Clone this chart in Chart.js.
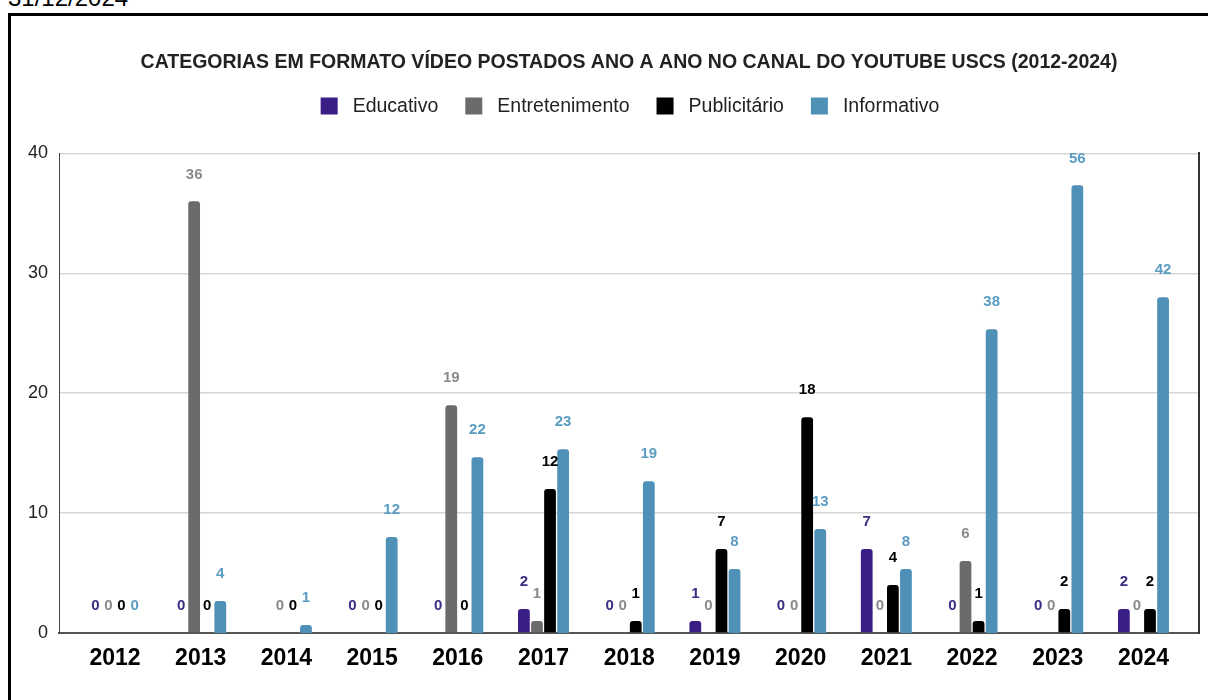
<!DOCTYPE html>
<html>
<head>
<meta charset="utf-8">
<script src="https://cdn.jsdelivr.net/npm/chart.js@4.4.1/dist/chart.umd.min.js"></script>
<style>
  html, body { margin: 0; padding: 0; background: #fff; overflow: hidden; }
  #stamp { position: absolute; left: 8px; top: -14px; font: 24px/1 'Liberation Sans', Arial, sans-serif; color: #000; }
  #frame { position: absolute; left: 8px; top: 13px; width: 1230px; height: 740px; border: 3px solid #000; box-sizing: border-box; }
  #wrap { position: absolute; left: 0; top: 0; width: 1208px; height: 700px; }
</style>
</head>
<body>
<div id="stamp">31/12/2024</div>
<div id="frame"></div>
<div id="wrap"><canvas id="chart"></canvas></div>
<script>
const FONT = "'Liberation Sans', Arial, sans-serif";
Chart.defaults.font.family = FONT;
Chart.defaults.color = "#222";

const TITLE = "CATEGORIAS EM FORMATO VÍDEO POSTADOS ANO A ANO NO CANAL DO YOUTUBE USCS (2012-2024)";
const YEARS = [2012, 2013, 2014, 2015, 2016, 2017, 2018, 2019, 2020, 2021, 2022, 2023, 2024];
const Y_TICKS = [0, 10, 20, 30, 40];

const SERIES = ["Educativo", "Entretenimento", "Publicitário", "Informativo"];
const EDUCATIVO = [0, 0, null, 0, 0, 2, 0, 1, 0, 7, 0, 0, 2];
const ENTRETENIMENTO = [0, 36, 0, 0, 19, 1, 0, 0, 0, 0, 6, 0, 0];
const PUBLICITARIO = [0, 0, 0, 0, 0, 12, 1, 7, 18, 4, 1, 2, 2];
const INFORMATIVO = [0, 4, 1, 12, 22, 23, 19, 8, 13, 8, 38, 56, 42];

const BAR_COLORS = ["#3a1e86", "#6b6b6b", "#000000", "#4f91b6"];
const LABEL_COLORS = ["#3d2c82", "#8a8a8a", "#000000", "#5b9cc2"];

const toPoints = (vals) => YEARS.map((yr, i) => ({ x: yr, y: vals[i] }));

// value labels above every bar (zeros included)
const valueLabels = {
  id: "valueLabels",
  afterDatasetsDraw(chart) {
    const ctx = chart.ctx;
    ctx.save();
    ctx.font = `bold 15px ${FONT}`;
    ctx.textAlign = "center";
    ctx.textBaseline = "middle";
    chart.data.datasets.forEach((ds, di) => {
      chart.getDatasetMeta(di).data.forEach((bar, i) => {
        const v = ds.data[i].y;
        if (v === null || isNaN(bar.y)) return;
        ctx.fillStyle = LABEL_COLORS[di];
        ctx.fillText(String(v), bar.x, bar.y - 27);
      });
    });
    ctx.restore();
  },
};

// legend row drawn by hand so the gaps match
const legendRow = {
  id: "legendRow",
  afterDraw(chart) {
    const ctx = chart.ctx;
    const box = 17, gap = 15, between = 27, cy = 106;
    ctx.save();
    ctx.font = `19.5px ${FONT}`;
    ctx.textBaseline = "middle";
    const widths = SERIES.map((s) => ctx.measureText(s).width);
    const total = widths.reduce((a, w) => a + box + gap + w, 0) + between * (SERIES.length - 1);
    let x = 630 - total / 2;
    SERIES.forEach((s, i) => {
      ctx.fillStyle = BAR_COLORS[i];
      ctx.fillRect(x, cy - box / 2, box, box);
      ctx.fillStyle = "#222";
      ctx.fillText(s, x + box + gap, cy + 1);
      x += box + gap + widths[i] + between;
    });
    ctx.restore();
  },
};

const values = [EDUCATIVO, ENTRETENIMENTO, PUBLICITARIO, INFORMATIVO];

new Chart(document.getElementById("chart"), {
  type: "bar",
  data: {
    datasets: SERIES.map((name, i) => ({
      label: name,
      data: toPoints(values[i]),
      backgroundColor: BAR_COLORS[i],
      borderRadius: 3,
      borderSkipped: "start",
      categoryPercentage: 0.61,
      barPercentage: 0.9,
      yAxisID: i === 3 ? "y2" : "y",
    })),
  },
  options: {
    responsive: true,
    maintainAspectRatio: false,
    animation: false,
    layout: { padding: { left: 0, right: 9, top: 0, bottom: 0 } },
    plugins: {
      legend: { display: false },
      tooltip: { enabled: false },
      title: {
        display: true,
        fullSize: false,
        text: TITLE,
        color: "#222",
        font: { size: 19.5, weight: "bold" },
        padding: { top: 51, bottom: 79 },
      },
    },
    scales: {
      x: {
        type: "linear",
        min: 2011.347,
        max: 2024.648,
        offset: false,
        grid: { display: false, drawTicks: false, offset: false },
        border: { display: true, color: "#555", width: 2 },
        afterBuildTicks: (s) => { s.ticks = YEARS.map((v) => ({ value: v })); },
        ticks: {
          padding: 12,
          color: "#000",
          font: { size: 23, weight: "bold" },
          maxRotation: 0,
          autoSkip: false,
          callback: (v) => String(v),
        },
        afterFit: (s) => { s.height = 67; },
      },
      y: {
        min: 0,
        max: 40,
        afterBuildTicks: (s) => { s.ticks = Y_TICKS.map((v) => ({ value: v })); },
        grid: { color: "#d6d6d6", lineWidth: 1.5, drawTicks: false },
        border: { display: true, color: "#444", width: 1 },
        ticks: { padding: 11, color: "#222", font: { size: 18 } },
        afterFit: (s) => { s.width = 59; },
      },
      y2: {
        position: "right",
        min: 0,
        max: 60,
        grid: { display: false, drawTicks: false },
        border: { display: true, color: "#333", width: 2 },
        ticks: { display: false },
        afterFit: (s) => { s.width = 0; },
      },
    },
  },
  plugins: [valueLabels, legendRow],
});
</script>
</body>
</html>
